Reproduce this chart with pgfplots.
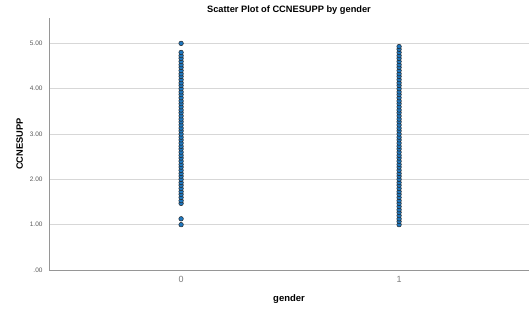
\documentclass[border=0pt]{standalone}
\usepackage{pgfplots}
\pgfplotsset{compat=1.18}
\usepackage{fontspec}
\setmainfont{Liberation Sans}
\definecolor{ptfill}{RGB}{31,119,190}
\definecolor{gridc}{RGB}{215,215,215}
\definecolor{axc}{RGB}{150,150,150}
\definecolor{tickc}{RGB}{90,90,90}
\pgfplotstableread{
x y
0 1.00
0 1.13
0 1.47
0 1.53
0 1.60
0 1.67
0 1.73
0 1.80
0 1.87
0 1.93
0 2.00
0 2.07
0 2.13
0 2.20
0 2.27
0 2.33
0 2.40
0 2.47
0 2.53
0 2.60
0 2.67
0 2.73
0 2.80
0 2.87
0 2.93
0 3.00
0 3.07
0 3.13
0 3.20
0 3.27
0 3.33
0 3.40
0 3.47
0 3.53
0 3.60
0 3.67
0 3.73
0 3.80
0 3.87
0 3.93
0 4.00
0 4.07
0 4.13
0 4.20
0 4.27
0 4.33
0 4.40
0 4.47
0 4.53
0 4.60
0 4.67
0 4.73
0 4.80
0 5.00
}\gzero
\pgfplotstableread{
x y
1 1.00
1 1.07
1 1.13
1 1.20
1 1.27
1 1.33
1 1.40
1 1.47
1 1.53
1 1.60
1 1.67
1 1.73
1 1.80
1 1.87
1 1.93
1 2.00
1 2.07
1 2.13
1 2.20
1 2.27
1 2.33
1 2.40
1 2.47
1 2.53
1 2.60
1 2.67
1 2.73
1 2.80
1 2.87
1 2.93
1 3.00
1 3.07
1 3.13
1 3.20
1 3.27
1 3.33
1 3.40
1 3.47
1 3.53
1 3.60
1 3.67
1 3.73
1 3.80
1 3.87
1 3.93
1 4.00
1 4.07
1 4.13
1 4.20
1 4.27
1 4.33
1 4.40
1 4.47
1 4.53
1 4.60
1 4.67
1 4.73
1 4.80
1 4.87
1 4.93
}\gone
\begin{document}
\begin{tikzpicture}
\path[use as bounding box] (-49bp,-45bp) rectangle (480bp,270bp);
\begin{axis}[
  at={(0,0)}, anchor=south west,
  scale only axis, width=480bp, height=252bp,
  xmin=-0.606, xmax=1.596, ymin=0, ymax=5.56,
  axis x line*=bottom, axis y line*=left,
  axis line style={axc, line width=0.8pt},
  x axis line style={-}, y axis line style={-},
  xtick={0,1}, xticklabels={0,1},
  ytick={0,1,2,3,4,5}, yticklabels={.00,1.00,2.00,3.00,4.00,5.00},
  major tick length=0pt,
  ymajorgrids, grid style={gridc, line width=0.7pt},
  xticklabel style={font=\fontsize{9}{10}\selectfont, text=tickc!80, yshift=-3bp},
  yticklabel style={font=\fontsize{6.5}{7}\selectfont, text=tickc, xshift=-3bp},
  /pgf/number format/assume math mode=true,
  title={\textbf{Scatter Plot of CCNESUPP by gender}},
  title style={font=\fontsize{9.3}{10}\selectfont, at={(0.5,1)}, anchor=center, yshift=2bp},
  xlabel={\textbf{gender}}, ylabel={\textbf{CCNESUPP}},
  xlabel style={font=\fontsize{9.5}{10}\selectfont, yshift=-5bp},
  ylabel style={font=\fontsize{9.3}{10}\selectfont, yshift=0bp},
  clip=false,
]
\addplot[only marks, mark=*, mark size=2.3bp, mark options={fill=ptfill, draw=black!85, line width=0.5pt}] table[x=x,y=y] {\gzero};
\addplot[only marks, mark=*, mark size=2.3bp, mark options={fill=ptfill, draw=black!85, line width=0.5pt}] table[x=x,y=y] {\gone};
\end{axis}
\end{tikzpicture}
\end{document}
